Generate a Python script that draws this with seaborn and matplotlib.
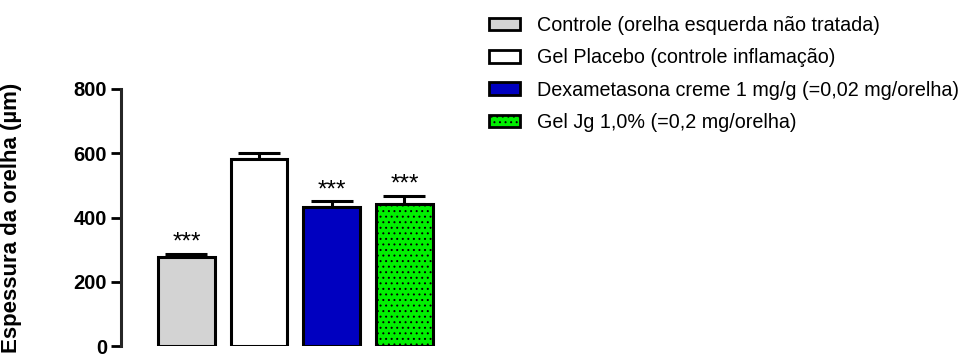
import matplotlib
matplotlib.use("Agg")
import matplotlib.pyplot as plt
import seaborn as sns
import pandas as pd
import numpy as np
from matplotlib.patches import Patch

groups = ["Controle (orelha esquerda não tratada)",
          "Gel Placebo (controle inflamação)",
          "Dexametasona creme 1 mg/g (=0,02 mg/orelha)",
          "Gel Jg 1,0% (=0,2 mg/orelha)"]
means = [278, 581, 433, 443]
sems = [8, 20, 17, 24]
stars = ["***", "", "***", "***"]
colors = ["#d3d3d3", "#ffffff", "#0000c0", "#00f000"]
hatches = ["", "", "", "..."]
yticks = [0, 200, 400, 600, 800]

sns.set_style("ticks")
plt.rcParams["font.family"] = ["Liberation Sans", "DejaVu Sans"]
plt.rcParams["hatch.color"] = "black"
plt.rcParams["hatch.linewidth"] = 0.7
plt.rcParams["text.color"] = "black"
plt.rcParams["axes.labelcolor"] = "black"
plt.rcParams["ytick.color"] = "black"

fig = plt.figure(figsize=(9.64, 3.58), dpi=100)
ax = fig.add_axes([121/964, 1-346/358, 319/964, (346-89)/358])

df = pd.DataFrame({"group": groups, "value": means})
sns.barplot(data=df, x="group", y="value", hue="group", palette=colors,
            order=groups, hue_order=groups, errorbar=None, width=0.78,
            saturation=1, edgecolor="black", linewidth=2.2, legend=False,
            ax=ax, zorder=3)

for i, p in enumerate(ax.patches[:4]):
    p.set_hatch(hatches[i])

x = np.arange(len(groups))
ax.errorbar(x, means, yerr=[np.zeros(len(sems)), sems], fmt="none",
            ecolor="black", elinewidth=2.2, capsize=15, capthick=2.2, zorder=2)
for i in range(len(groups)):
    if stars[i]:
        ax.text(x[i], means[i] + sems[i] + 1, stars[i], ha="center", va="bottom",
                fontsize=17.5, color="black")

ax.set_xlim(-0.90, 3.49)
ax.set_ylim(0, 800)
ax.set_yticks(yticks)
ax.set_yticklabels([str(t) for t in yticks], fontsize=14.5, fontweight="bold")
ax.set_xticks([])
ax.set_xlabel("")
ax.set_ylabel("Espessura da orelha (µm)", fontsize=16, fontweight="bold")
ax.yaxis.set_label_coords((22 - 121) / 319, 0.5)
for s in ["top", "right", "bottom"]:
    ax.spines[s].set_visible(False)
ax.spines["left"].set_linewidth(2.2)
ax.spines["left"].set_bounds(0, 800)
ax.tick_params(axis="y", width=2.0, length=7, direction="out", pad=3)

handles = [Patch(facecolor=colors[i], edgecolor="black", linewidth=2.0,
                 hatch=hatches[i], label=groups[i]) for i in range(4)]
fig.legend(handles=handles, loc="upper left", bbox_to_anchor=(481/964, 1-8/358),
           frameon=False, fontsize=14.2, handlelength=1.6, handleheight=0.6,
           handletextpad=0.85, labelspacing=0.68, borderaxespad=0)

fig.savefig("out.png", dpi=100)
